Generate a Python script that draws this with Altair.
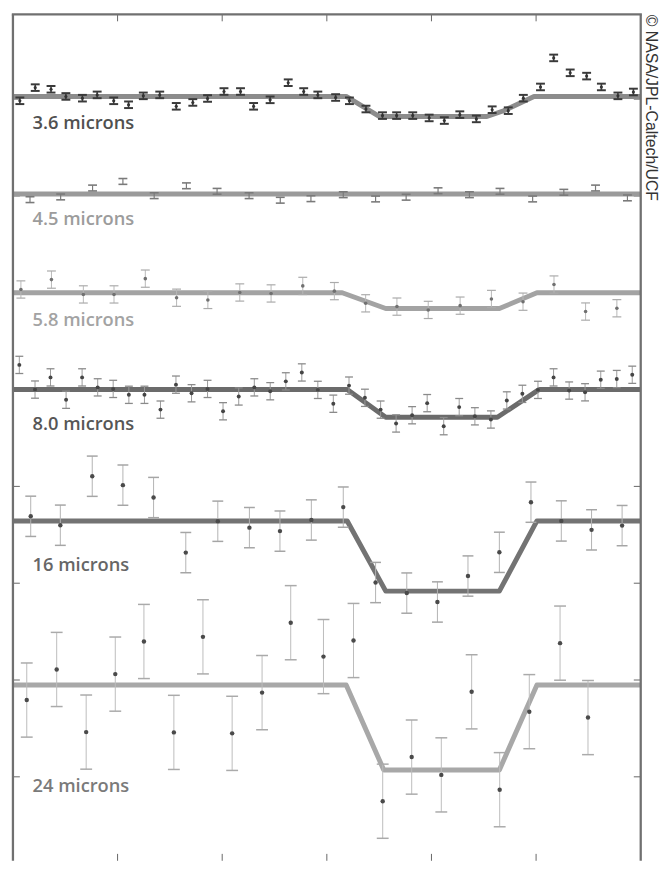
import altair as alt
import pandas as pd

# ---------------- data ----------------
# x: time (arbitrary units, frame spans 0..6); y: relative flux, offset per band (tick spacing = 1)
x_36 = [0.066, 0.213, 0.364, 0.506, 0.664, 0.805, 0.963, 1.105, 1.246, 1.403,
        1.561, 1.719, 1.860, 2.017, 2.175, 2.300, 2.458, 2.631, 2.779, 2.914,
        3.084, 3.216, 3.374, 3.532, 3.667, 3.821, 3.978, 4.123, 4.271, 4.429,
        4.580, 4.734, 4.878, 5.042, 5.168, 5.326, 5.483, 5.624, 5.782, 5.930]
y_36 = [7.983, 8.119, 8.102, 8.028, 8.010, 8.044, 7.983, 7.942, 8.034, 8.044,
        7.926, 7.966, 8.007, 8.079, 8.079, 7.926, 7.993, 8.170, 8.079, 8.044,
        8.017, 7.983, 7.898, 7.830, 7.830, 7.830, 7.806, 7.779, 7.840, 7.796,
        7.891, 7.881, 8.010, 8.126, 8.426, 8.272, 8.238, 8.126, 8.034, 8.074]
e_36 = 0.034

x_45 = [0.163, 0.456, 0.761, 1.051, 1.350, 1.658, 1.951, 2.257, 2.555, 2.848,
        3.157, 3.466, 3.758, 4.063, 4.363, 4.655, 4.967, 5.265, 5.568, 5.873]
y_45 = [6.962, 6.990, 7.082, 7.150, 7.003, 7.105, 7.048, 7.003, 6.956, 6.972,
        7.013, 6.969, 6.987, 7.054, 7.013, 7.048, 6.969, 7.038, 7.082, 6.980]
e_45 = 0.030

x_58 = [0.076, 0.368, 0.673, 0.966, 1.265, 1.564, 1.863, 2.168, 2.467, 2.770,
        3.072, 3.371, 3.670, 3.969, 4.274, 4.573, 4.875, 5.171, 5.473, 5.772]
y_58 = [6.034, 6.136, 5.983, 5.983, 6.146, 5.949, 5.926, 6.003, 5.993, 6.071,
        6.017, 5.891, 5.857, 5.823, 5.867, 5.936, 5.908, 6.085, 5.806, 5.840]
e_58 = 0.089

x_80 = [0.061, 0.211, 0.359, 0.508, 0.661, 0.810, 0.958, 1.108, 1.257, 1.410,
        1.558, 1.707, 1.860, 2.008, 2.158, 2.307, 2.459, 2.608, 2.761, 2.914,
        3.062, 3.212, 3.364, 3.514, 3.662, 3.815, 3.959, 4.117, 4.265, 4.415,
        4.568, 4.720, 4.869, 5.018, 5.167, 5.316, 5.468, 5.618, 5.771, 5.919]
y_80 = [5.255, 5.000, 5.126, 4.895, 5.126, 5.023, 5.007, 4.946, 4.946, 4.793,
        5.051, 4.962, 5.007, 4.776, 4.929, 5.023, 4.983, 5.085, 5.177, 4.997,
        4.854, 5.041, 4.915, 4.793, 4.650, 4.735, 4.860, 4.622, 4.819, 4.724,
        4.691, 4.888, 4.956, 4.997, 5.126, 4.990, 4.972, 5.102, 5.109, 5.153]
e_80 = 0.089

x_16 = [0.170, 0.453, 0.758, 1.051, 1.344, 1.652, 1.958, 2.260, 2.552, 2.852,
        3.157, 3.466, 3.764, 4.057, 4.349, 4.649, 4.951, 5.241, 5.530, 5.822]
y_16 = [3.691, 3.599, 4.105, 4.013, 3.885, 3.316, 3.640, 3.574, 3.538, 3.653,
        3.786, 3.007, 2.898, 2.806, 3.074, 3.319, 3.837, 3.643, 3.551, 3.595]
e_16 = 0.208

x_24 = [0.132, 0.418, 0.700, 0.978, 1.252, 1.538, 1.816, 2.095, 2.381, 2.655,
        2.968, 3.255, 3.534, 3.811, 4.094, 4.384, 4.652, 4.935, 5.229, 5.496]
y_24 = [1.793, 2.109, 1.462, 2.061, 2.398, 1.459, 2.446, 1.449, 1.870, 2.592,
        2.242, 2.408, 0.748, 1.204, 1.020, 1.878, 0.867, 1.673, 2.381, 1.612]
e_24 = 0.383

# eclipse model curves (vertices)
mx_36 = [0, 3.185, 3.500, 4.530, 4.690, 4.980, 6]
my_36 = [8.028, 8.028, 7.821, 7.821, 7.880, 8.028, 8.028]
mx_45 = [0, 6]
my_45 = [7.020, 7.020]
mx_58 = [0, 3.147, 3.563, 4.649, 5.008, 6]
my_58 = [6.000, 6.000, 5.837, 5.837, 6.000, 6.000]
mx_80 = [0, 3.195, 3.563, 4.630, 5.027, 6]
my_80 = [5.000, 5.000, 4.714, 4.714, 5.000, 5.000]
mx_16 = [0, 3.195, 3.563, 4.649, 5.008, 6]
my_16 = [3.643, 3.643, 2.918, 2.918, 3.643, 3.643]
mx_24 = [0, 3.185, 3.544, 4.649, 5.008, 6]
my_24 = [1.949, 1.949, 1.071, 1.071, 1.949, 1.949]

labels = ["3.6 microns", "4.5 microns", "5.8 microns", "8.0 microns", "16 microns", "24 microns"]
label_x = [0.187, 0.187, 0.187, 0.187, 0.187, 0.187]
label_y = [7.694, 6.704, 5.658, 4.582, 3.122, 0.847]
label_colors = ["#505050", "#9c9c9c", "#a3a3a3", "#565656", "#666666", "#7a7a7a"]

x_ticks = [1, 2, 3, 4, 5]
y_ticks = [1, 2, 3, 4, 5, 6, 7, 8]

credit = "\u00a9 NASA/JPL-Caltech/UCF"

# ---------------- layout ----------------
W = 635.5
PAD_TOP = 1.2
TOP = 8 + PAD_TOP          # page y of the frame top
BOTTOM = 866.0             # page y of the plot bottom (keeps the page inside the window)
H = BOTTOM - TOP
PX_PER_UNIT = 98.0
XDOM = [0, 6]
YDOM = [(879 - BOTTOM) / PX_PER_UNIT, (879 - TOP) / PX_PER_UNIT]

xs = alt.Scale(domain=XDOM, nice=False, zero=False)
ys = alt.Scale(domain=YDOM, nice=False, zero=False)


def X(f):
    return alt.X(f, type="quantitative", scale=xs, axis=None)


def Y(f):
    return alt.Y(f, type="quantitative", scale=ys, axis=None)


styles = {
    "3.6": dict(line="#8c8c8c", bar="#3a3a3a", bw=1.6, cap=9, ct=2.0, capc="#3a3a3a", dot=10, dotc="#333333"),
    "4.5": dict(line="#9a9a9a", bar="#7a7a7a", bw=1.2, cap=9, ct=1.6, capc="#7a7a7a", dot=0, dotc="#777777"),
    "5.8": dict(line="#a3a3a3", bar="#b8b8b8", bw=1.0, cap=9, ct=1.2, capc="#aaaaaa", dot=13, dotc="#707070"),
    "8.0": dict(line="#6b6b6b", bar="#9a9a9a", bw=1.0, cap=8, ct=1.3, capc="#8a8a8a", dot=16, dotc="#454545"),
    "16": dict(line="#737373", bar="#b3b3b3", bw=1.0, cap=11, ct=1.5, capc="#a5a5a5", dot=20, dotc="#4a4a4a"),
    "24": dict(line="#a8a8a8", bar="#bcbcbc", bw=1.0, cap=12, ct=1.5, capc="#aaaaaa", dot=20, dotc="#4a4a4a"),
}

series = [
    ("3.6", x_36, y_36, e_36, mx_36, my_36),
    ("4.5", x_45, y_45, e_45, mx_45, my_45),
    ("5.8", x_58, y_58, e_58, mx_58, my_58),
    ("8.0", x_80, y_80, e_80, mx_80, my_80),
    ("16", x_16, y_16, e_16, mx_16, my_16),
    ("24", x_24, y_24, e_24, mx_24, my_24),
]

line_layers = []
point_layers = []
for name, xv, yv, err, mxv, myv in series:
    st = styles[name]
    df = pd.DataFrame({"x": xv, "y": yv})
    df["lo"] = df["y"] - err
    df["hi"] = df["y"] + err
    mdf = pd.DataFrame({"x": mxv, "y": myv})
    line_layers.append(
        alt.Chart(mdf).mark_line(color=st["line"], strokeWidth=5, strokeJoin="round")
        .encode(X("x"), Y("y"))
    )
    base = alt.Chart(df)
    point_layers.append(
        base.mark_rule(color=st["bar"], strokeWidth=st["bw"]).encode(X("x"), Y("lo"), alt.Y2("hi"))
    )
    for f in ("lo", "hi"):
        point_layers.append(
            base.mark_tick(orient="horizontal", size=st["cap"], thickness=st["ct"],
                           color=st["capc"], opacity=1)
            .encode(X("x"), Y(f))
        )
    if st["dot"] > 0:
        point_layers.append(
            base.mark_circle(size=st["dot"], color=st["dotc"], opacity=1).encode(X("x"), Y("y"))
        )

lab_df = pd.DataFrame({"label": labels, "x": label_x, "y": label_y})
label_layer = alt.Chart(lab_df).mark_text(
    align="left", baseline="alphabetic", font="Open Sans", fontSize=18.5, fontWeight=600
).encode(
    X("x"), Y("y"), text="label:N",
    color=alt.Color("label:N", scale=alt.Scale(domain=labels, range=label_colors), legend=None),
)

xt = pd.DataFrame({"t": x_ticks})
yt = pd.DataFrame({"t": y_ticks})
TL = 7
tick_layers = [
    alt.Chart(xt).mark_rule(color="#666666", strokeWidth=1).encode(X("t"), y=alt.value(0), y2=alt.value(TL)),
    alt.Chart(xt).mark_rule(color="#666666", strokeWidth=1).encode(X("t"), y=alt.value(H - TL), y2=alt.value(H)),
    alt.Chart(yt).mark_rule(color="#666666", strokeWidth=1).encode(Y("t"), x=alt.value(0), x2=alt.value(TL)),
    alt.Chart(yt).mark_rule(color="#666666", strokeWidth=1).encode(Y("t"), x=alt.value(W - TL), x2=alt.value(W)),
]

# open-bottom frame (the reference's bottom edge lies below the picture)
FW = 2.3
FC = "#707070"
frame_layers = [
    alt.Chart().mark_rule(color=FC, strokeWidth=FW).encode(
        x=alt.value(-FW / 2), x2=alt.value(W + FW / 2), y=alt.value(0)),
    alt.Chart().mark_rule(color=FC, strokeWidth=FW).encode(
        x=alt.value(0), y=alt.value(0), y2=alt.value(H)),
    alt.Chart().mark_rule(color=FC, strokeWidth=FW).encode(
        x=alt.value(W), y=alt.value(0), y2=alt.value(H)),
]

credit_layer = alt.Chart(pd.DataFrame({"t": [credit]})).mark_text(
    angle=90, align="left", baseline="alphabetic", font="Liberation Sans", fontSize=16, color="#333333"
).encode(text="t:N", x=alt.value(W + 5.5), y=alt.value(0.3))

chart = alt.layer(
    *tick_layers, *line_layers, *point_layers, label_layer, *frame_layers, credit_layer
).properties(
    width=W,
    height=H,
    padding={"left": 5, "top": PAD_TOP, "right": 18.5, "bottom": 0},
    autosize=alt.AutoSizeParams(type="none"),
    background="white",
).configure_view(stroke=None)

chart.save("out.html", embed_options={"renderer": "svg", "actions": False})
